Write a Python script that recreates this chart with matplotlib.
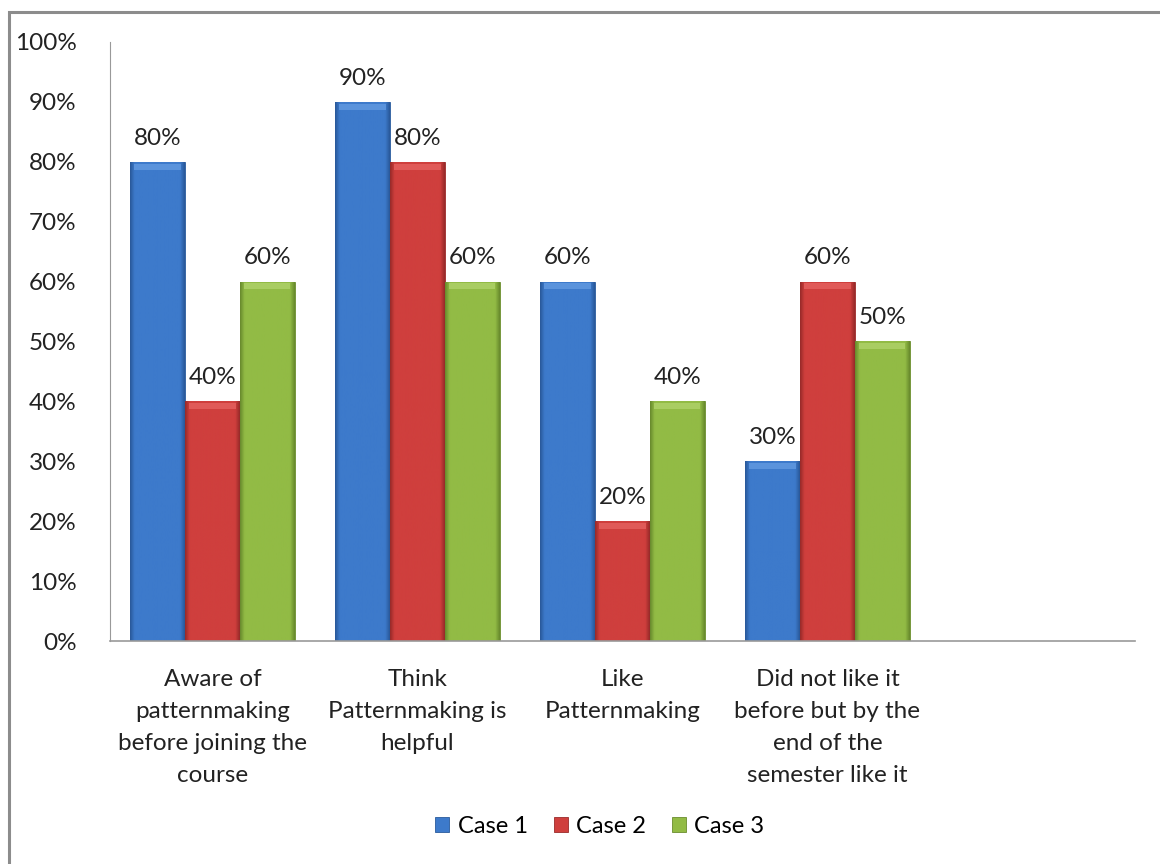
import numpy as np
import matplotlib.pyplot as plt
from matplotlib.patches import Rectangle
from matplotlib.colors import LinearSegmentedColormap

categories = ["Aware of\npatternmaking\nbefore joining the\ncourse",
              "Think\nPatternmaking is\nhelpful",
              "Like\nPatternmaking",
              "Did not like it\nbefore but by the\nend of the\nsemester like it",
              ""]
case1 = [80, 90, 60, 30]
case2 = [40, 80, 20, 60]
case3 = [60, 60, 40, 50]
series_names = ["Case 1", "Case 2", "Case 3"]
yticks = [0, 10, 20, 30, 40, 50, 60, 70, 80, 90, 100]

colors = ["#3d7acb", "#cf3f3d", "#92bb45"]
dark = ["#2a5a9c", "#9a2b2a", "#6a8c2e"]
light = ["#5a93dc", "#e05a58", "#a9cd62"]

plt.rcParams['font.family'] = ['Lato', 'DejaVu Sans']

fig = plt.figure(figsize=(11.6, 8.64), dpi=100)
ax = fig.add_axes([0.0948, 0.2581, 0.8836, 0.6933])

# outer frame of the chart
fig.patches.append(Rectangle((9 / 1160, -0.05), 1.2, 1 - 12 / 864 + 0.05,
                             transform=fig.transFigure, fill=False,
                             edgecolor="#8c8c8c", linewidth=2.2))

x = np.arange(len(categories))
w = 0.268
data = [case1, case2, case3]

for i, vals in enumerate(data):
    pos = x[:len(vals)] + (i - 1) * w
    bars = ax.bar(pos, vals, w, color=colors[i], edgecolor=dark[i],
                  linewidth=0.6, zorder=2, label=series_names[i])
    cmap = LinearSegmentedColormap.from_list(
        "g", [(0, dark[i]), (0.08, colors[i]), (0.5, colors[i]),
              (0.92, colors[i]), (1, dark[i])])
    grad = np.linspace(0, 1, 64).reshape(1, -1)
    for b, v in zip(bars, vals):
        im = ax.imshow(grad, cmap=cmap, aspect="auto", zorder=2.5,
                       extent=[b.get_x(), b.get_x() + w, 0, v])
        im.set_clip_path(b)
        # light bevel on the top of each bar
        ax.add_patch(Rectangle((b.get_x() + w * 0.08, v - 1.3), w * 0.84, 1.0,
                               facecolor=light[i], edgecolor="none", zorder=2.6))
        ax.text(b.get_x() + w / 2, v + 2.2, f"{v}%", ha="center", va="bottom",
                fontsize=17.5, color="#222222")

ax.set_xlim(-0.5, len(categories) - 0.5)
ax.set_ylim(0, 100)
ax.set_yticks(yticks)
ax.set_yticklabels([f"{t}%" for t in yticks])
ax.set_xticks(x[:4])
ax.set_xticklabels(categories[:4], linespacing=1.65, va="top")
ax.tick_params(axis="x", length=0, pad=20, labelsize=17.5, colors="#222222")
ax.tick_params(axis="y", length=0, pad=24, labelsize=17.5, colors="#222222")
for s in ["top", "right"]:
    ax.spines[s].set_visible(False)
ax.spines["left"].set_color("#999999")
ax.spines["bottom"].set_color("#999999")
ax.spines["bottom"].set_linewidth(1.2)

ax.legend(loc="center", bbox_to_anchor=(0.478, -0.31),
          ncol=3, frameon=False, fontsize=17, handlelength=0.6,
          handleheight=0.6, handletextpad=0.35, columnspacing=1.1)

fig.savefig("out.png", dpi=100)
